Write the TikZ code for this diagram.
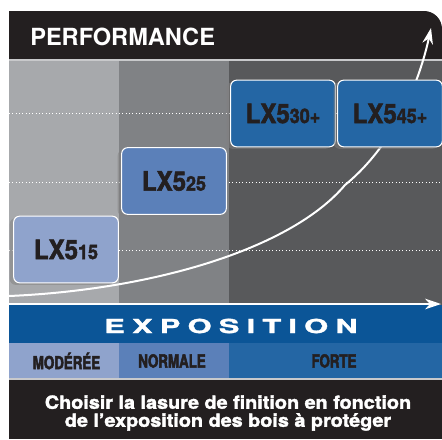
\documentclass[tikz,border=0pt]{standalone}
\usepackage{fontspec}
\setmainfont{TeX Gyre Heros}
\newfontfamily\boxfont[FakeStretch=0.9,FakeBold=2]{TeX Gyre Heros}
\newfontfamily\bandfont[FakeStretch=0.74,FakeBold=2.5]{TeX Gyre Heros}
\newfontfamily\widefont[FakeStretch=1.6,LetterSpace=37,FakeBold=1.5]{TeX Gyre Heros}
\newfontfamily\notefont[FakeStretch=1.1,FakeBold=2]{TeX Gyre Heros}
\usetikzlibrary{arrows.meta, shadows, calc}
\definecolor{headblack}{HTML}{231F20}
\definecolor{zonelight}{HTML}{A7A9AC}
\definecolor{zonemid}{HTML}{808285}
\definecolor{zonedark}{HTML}{58595B}
\definecolor{bandblue}{HTML}{0B5597}
\definecolor{bluelight}{HTML}{8FA3CC}
\definecolor{bluemid}{HTML}{5B80B9}
\definecolor{bluedark}{HTML}{2466A4}
\definecolor{rulegray}{HTML}{C8C9CB}

\begin{document}
\begin{tikzpicture}[x=0.75pt, y=-0.75pt,
	lxbox/.style={draw=white, line width=0.8pt, rounded corners=4.5pt, minimum width=78.5pt, minimum height=50pt, inner sep=0pt, text=headblack, font=\boxfont\bfseries\fontsize{20}{20}\selectfont, drop shadow={shadow xshift=-3pt, shadow yshift=-1.5pt, opacity=0.5}},
	guide/.style={white, line width=0.5pt, dotted},
	axis/.style={white, line width=1.5pt, -{Stealth[length=12pt, width=8pt]}},
	bandlabel/.style={text=headblack, font=\bandfont\bfseries\fontsize{13.5}{13.5}\selectfont}]
	\useasboundingbox (0,0) rectangle (442,439);
	\fill[zonelight] (9,60) rectangle (119,305);
	\fill[zonemid] (119,60) rectangle (229,305);
	\fill[zonedark] (229,60) rectangle (442,305);
	\fill[headblack] (9,60) -- (9,11) -- (424,11) .. controls (434,11) and (442,19) .. (442,29) -- (442,60) -- cycle;
	\draw[rulegray, line width=0.8pt] (9,60) -- (442,60);
	\path (30,36.5) node [anchor=west, inner sep=0pt, text=white, font=\bfseries\fontsize{17.7}{17.7}\selectfont] (perf) {PERFORMANCE};
	\foreach \y in {113,182,250}
		\draw[guide] (9,\y) -- (442,\y);
	\coordinate (cs) at (9,296);
	\coordinate (cm) at (345,185);
	\coordinate (ce) at (431,28);
	\draw[axis] (cs) .. controls (150,290) and (290,250) .. (cm) .. controls (400,140) and (422,70) .. (ce);
	\node[lxbox, fill=bluelight] (lx15) at (66,249.5) {LX5{\fontsize{15}{15}\selectfont 15}};
	\node[lxbox, fill=bluemid] (lx25) at (174,181) {LX5{\fontsize{15}{15}\selectfont 25}};
	\node[lxbox, fill=bluedark] (lx30) at (283,113.5) {LX5{\fontsize{15}{15}\selectfont 30+}};
	\node[lxbox, fill=bluedark] (lx45) at (390,113.5) {LX5{\fontsize{15}{15}\selectfont 45+}};
	\fill[bandblue] (9,305) rectangle (442,343);
	\coordinate (as) at (9,304);
	\coordinate (ae) at (441,304);
	\draw[axis] (as) -- (ae);
	\path (231,326) node [text=white, font=\widefont\bfseries\fontsize{14.5}{14.5}\selectfont] (expo) {EXPOSITION};
	\fill[bluelight] (9,343) rectangle (119,379);
	\fill[bluemid] (119,343) rectangle (229,379);
	\fill[bluedark] (229,343) rectangle (442,379);
	\path (66.5,361) node [bandlabel] (modere) {MODÉRÉE};
	\path (172,361) node [bandlabel] (normale) {NORMALE};
	\path (334,361) node [bandlabel] (forte) {FORTE};
	\fill[headblack] (9,379) rectangle (442,439);
	\draw[rulegray, line width=0.8pt] (9,379) -- (442,379);
	\path (228,413) node [align=center, text=white, font=\notefont\bfseries\fontsize{13.5}{13.5}\selectfont] (note) {Choisir la lasure de finition en fonction\\de l’exposition des bois à protéger};
\end{tikzpicture}
\end{document}
